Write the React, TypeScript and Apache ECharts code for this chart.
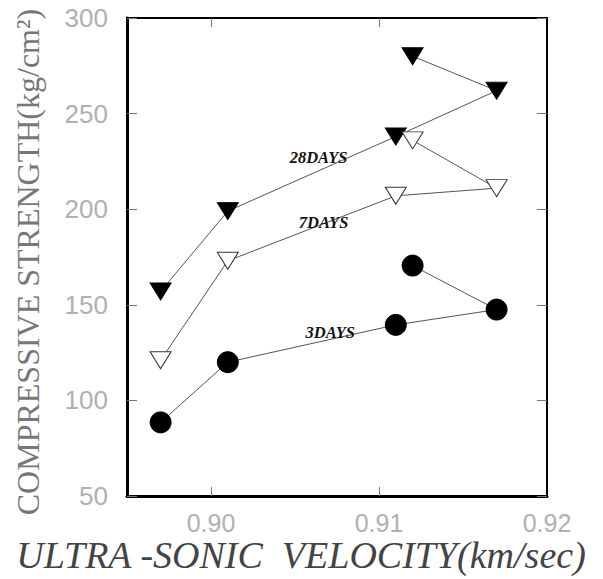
import React, { useEffect, useRef } from "react";
import * as echarts from "echarts";

const velocity = [0.897, 0.901, 0.911, 0.917, 0.912];
const days28 = [157, 199, 238, 262, 280];
const days7 = [121, 173, 207, 211, 236];
const days3 = [88.5, 120, 139.5, 147.5, 170.5];
const xLabelValues = [0.9, 0.91, 0.92];
const xTickValues = [0.9, 0.91];

const pairs = (ys: number[]) => velocity.map((x, i) => [x, ys[i]]);

export default function App() {
  const ref = useRef<HTMLDivElement>(null);
  useEffect(() => {
    const chart = echarts.init(ref.current!, null, { renderer: "svg" });
    const serif = "Liberation Serif";
    const lineStyle = { color: "#555", width: 1 };
    const tagLabel = (text: string, coord: number[]) => ({
      symbol: "circle",
      symbolSize: 2,
      silent: true,
      itemStyle: { color: "rgba(0,0,0,0)" },
      label: {
        show: true,
        formatter: text,
        position: "inside",
        fontFamily: serif,
        fontStyle: "italic",
        fontWeight: "bold",
        fontSize: 16.5,
        color: "#111",
      },
      data: [{ coord }],
    });
    chart.setOption({
      animation: false,
      grid: { left: 127, top: 18, right: 56, bottom: 83, show: true, borderColor: "#000", borderWidth: 2, backgroundColor: "transparent" },
      xAxis: [
        {
          type: "value",
          min: 0.895,
          max: 0.92,
          splitLine: { show: false },
          axisLine: { show: true, lineStyle: { color: "#000", width: 3 } },
          axisTick: { show: true, inside: true, length: 9, customValues: xTickValues, lineStyle: { color: "#777", width: 1 } },
          axisLabel: {
            customValues: xLabelValues,
            formatter: (v: number) => v.toFixed(2),
            fontFamily: "Liberation Sans",
            fontSize: 25,
            color: "#b0b0b0",
            margin: 14,
          },
        },
        {
          type: "value",
          position: "top",
          min: 0.895,
          max: 0.92,
          splitLine: { show: false },
          axisLine: { show: true, lineStyle: { color: "#000", width: 2 } },
          axisTick: { show: true, inside: true, length: 9, customValues: xTickValues, lineStyle: { color: "#777", width: 1 } },
          axisLabel: { show: false },
        },
      ],
      yAxis: [
        {
          type: "value",
          min: 50,
          max: 300,
          interval: 50,
          splitLine: { show: false },
          axisLine: { show: true, lineStyle: { color: "#000", width: 3 } },
          axisTick: { show: true, inside: true, length: 10, lineStyle: { color: "#777", width: 1 } },
          axisLabel: { fontFamily: "Liberation Sans", fontSize: 26, color: "#b0b0b0", margin: 19 },
        },
        {
          type: "value",
          position: "right",
          min: 50,
          max: 300,
          interval: 50,
          splitLine: { show: false },
          axisLine: { show: true, lineStyle: { color: "#000", width: 2 } },
          axisTick: { show: true, inside: true, length: 10, lineStyle: { color: "#777", width: 1 } },
          axisLabel: { show: false },
        },
      ],
      series: [
        {
          name: "28DAYS",
          type: "line",
          data: pairs(days28),
          symbol: "triangle",
          symbolRotate: 180,
          symbolSize: [21, 17],
          itemStyle: { color: "#000", borderColor: "#000" },
          lineStyle,
          z: 3,
          markPoint: tagLabel("28DAYS", [0.9064, 226.8]),
        },
        {
          name: "7DAYS",
          type: "line",
          data: pairs(days7),
          symbol: "triangle",
          symbolRotate: 180,
          symbolSize: [21, 17],
          itemStyle: { color: "#fff", borderColor: "#333", borderWidth: 1 },
          lineStyle,
          z: 3,
          markPoint: tagLabel("7DAYS", [0.9067, 192.8]),
        },
        {
          name: "3DAYS",
          type: "line",
          data: pairs(days3),
          symbol: "circle",
          symbolSize: 21,
          itemStyle: { color: "#000", borderColor: "#000" },
          lineStyle,
          z: 3,
          markPoint: tagLabel("3DAYS", [0.9071, 135.3]),
        },
      ],
      graphic: [
        {
          type: "text",
          x: 28,
          y: 262,
          rotation: Math.PI / 2,
          style: {
            text: "COMPRESSIVE STRENGTH(kg/cm²)",
            fontFamily: serif,
            fontSize: 32,
            fill: "#777",
            align: "center",
            verticalAlign: "middle",
          },
        },
        {
          type: "text",
          x: 301,
          y: 555,
          style: {
            text: "ULTRA -SONIC  VELOCITY(km/sec)",
            fontFamily: serif,
            fontStyle: "italic",
            fontSize: 38,
            fill: "#444",
            align: "center",
            verticalAlign: "middle",
          },
        },
      ],
    });
    return () => chart.dispose();
  }, []);
  return <div ref={ref} style={{ width: 603, height: 579, position: "absolute", left: 0, top: 0 }} />;
}
